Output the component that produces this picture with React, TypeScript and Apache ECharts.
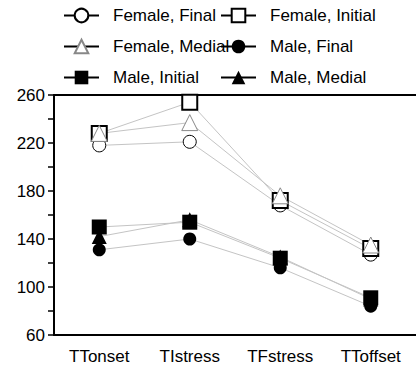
import React, { useEffect, useRef } from "react";
import * as echarts from "echarts";

const categories = ["TTonset", "TIstress", "TFstress", "TToffset"];
const femaleFinal = [218, 221, 168, 127];
const femaleInitial = [228, 254, 172, 132];
const femaleMedial = [228, 237, 176, 135];
const maleFinal = [131, 140, 116, 84];
const maleInitial = [150, 154, 124, 91];
const maleMedial = [142, 156, 125, 90];
const yTicks = [60, 100, 140, 180, 220, 260];

const FONT = "'Liberation Sans', Arial, sans-serif";

export default function App() {
  const ref = useRef<HTMLDivElement>(null);
  useEffect(() => {
    if (!ref.current) return;
    const chart = echarts.init(ref.current, null, { renderer: "svg" });
    const lineStyle = { color: "#c4c4c4", width: 1 };
    const mk = (name: string, data: number[], symbol: string, size: number, itemStyle: any) => ({
      name,
      type: "line",
      data,
      symbol,
      symbolSize: size,
      showSymbol: true,
      lineStyle,
      itemStyle,
      emphasis: { disabled: true },
    });
    const hollowBlack = { color: "#fff", borderColor: "#000", borderWidth: 2 };
    const filled = { color: "#000", borderColor: "#000", borderWidth: 0 };
    const legendCommon = {
      orient: "vertical",
      top: 2,
      itemWidth: 35,
      itemHeight: 17,
      itemGap: 14,
      textStyle: { fontFamily: FONT, fontSize: 17, color: "#000", padding: [0, 0, 0, 9] },
      lineStyle: { color: "#000", width: 2 },
      selectedMode: false,
    };
    chart.setOption({
      animation: false,
      legend: [
        { ...legendCommon, left: 58, data: ["Female, Final", "Female, Medial", "Male, Initial"] },
        { ...legendCommon, left: 215, data: ["Female, Initial", "Male, Final", "Male, Medial"] },
      ],
      grid: { left: 54, top: 95, right: -3, bottom: 32 },
      xAxis: [
        {
          type: "category",
          data: categories,
          boundaryGap: true,
          axisLine: { lineStyle: { color: "#000", width: 2 } },
          axisTick: { alignWithLabel: true, length: 4, lineStyle: { color: "#000", width: 1.5 } },
          axisLabel: { fontFamily: FONT, fontSize: 17, color: "#000", margin: 13 },
        },
        {
          type: "category",
          position: "top",
          data: categories,
          axisLine: { lineStyle: { color: "#000", width: 2 } },
          axisTick: { show: false },
          axisLabel: { show: false },
        },
      ],
      yAxis: {
        type: "value",
        min: 60,
        max: 260,
        interval: 20,
        splitLine: { show: false },
        axisLine: { show: true, lineStyle: { color: "#000", width: 2 } },
        axisTick: { show: true, length: 6, lineStyle: { color: "#000", width: 1.5 } },
        axisLabel: {
          fontFamily: FONT,
          fontSize: 17,
          color: "#000",
          margin: 9,
          formatter: (v: number) => (yTicks.includes(v) ? String(v) : ""),
        },
      },
      series: [
        mk("Female, Final", femaleFinal, "circle", 13, { color: "#fff", borderColor: "#000", borderWidth: 1 }),
        mk("Female, Initial", femaleInitial, "rect", 15, hollowBlack),
        mk("Female, Medial", femaleMedial, "triangle", 16, { color: "#fff", borderColor: "#888", borderWidth: 1 }),
        mk("Male, Final", maleFinal, "circle", 13, filled),
        mk("Male, Initial", maleInitial, "rect", 15, filled),
        mk("Male, Medial", maleMedial, "triangle", 15, filled),
      ],
    });
    return () => chart.dispose();
  }, []);
  return <div ref={ref} style={{ width: 416, height: 367, position: "absolute", left: 0, top: 0 }} />;
}
